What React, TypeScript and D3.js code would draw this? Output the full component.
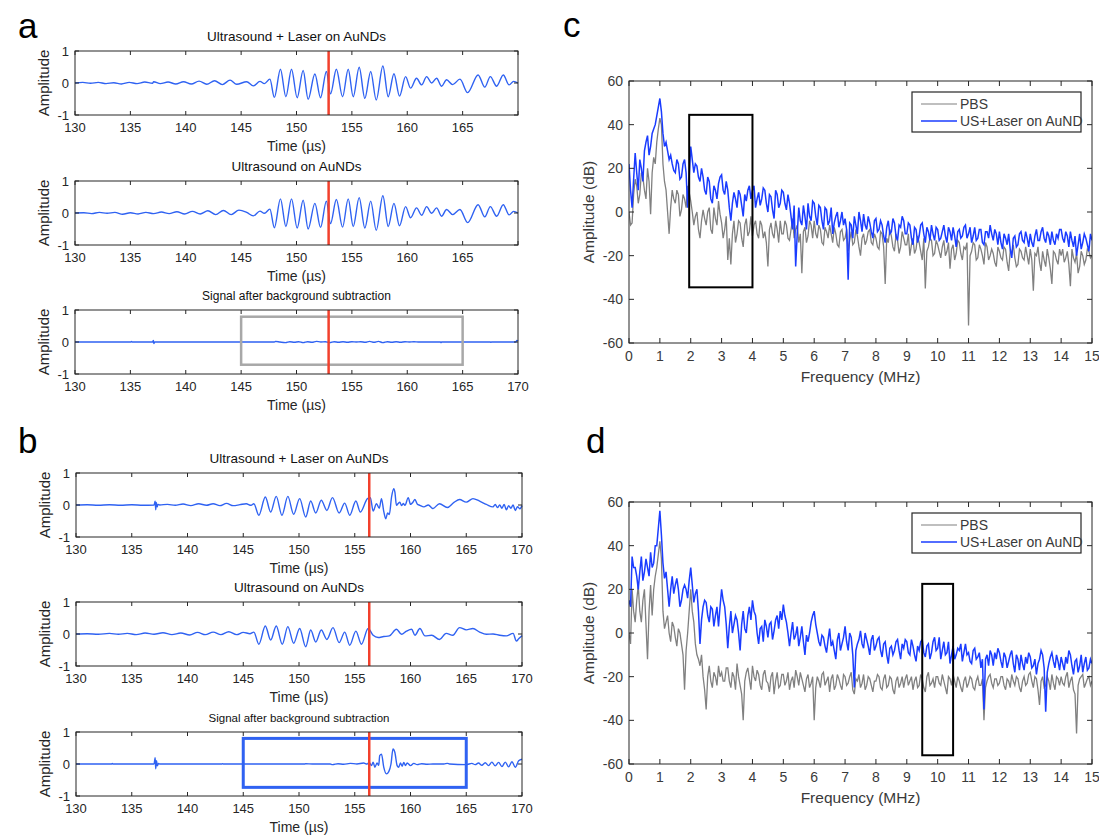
import React from 'react';
import * as d3 from 'd3';

const FONT = 'Arial, "Liberation Sans", Helvetica, sans-serif';

// time axis (µs) and amplitude ticks
const timeTicks = [130, 135, 140, 145, 150, 155, 160, 165, 170];
const ampTicks = [-1, 0, 1];
const freqTicks = [0, 1, 2, 3, 4, 5, 6, 7, 8, 9, 10, 11, 12, 13, 14, 15];
const dbTicks = [-60, -40, -20, 0, 20, 40, 60];

// waveform extrema: [time µs, amplitude]
const aLaser: [number, number][] = [
  [130, 0], [130.7, 0.02], [131.4, -0.01], [132.1, 0.02], [132.8, -0.02], [133.5, 0.01], [134.2, -0.03],
  [134.9, 0.02], [135.6, -0.02], [136.3, 0.03], [137, -0.01], [137.1, 0.04], [137.7, -0.02], [138.4, 0.03],
  [139.1, -0.03], [139.8, 0.04], [140.5, -0.03], [141.2, 0.06], [141.9, -0.04], [142.6, 0.07], [143.3, -0.05],
  [144, 0.09], [144.6, -0.04], [145.5, 0.04], [146.1, -0.09], [146.7, 0.05], [147.1, -0.02], [147.6, 0.12],
  [148.0, -0.45], [148.55, 0.43], [149.04, -0.43], [149.55, 0.43], [150.06, -0.46], [150.6, 0.39], [151.05, -0.51],
  [151.66, 0.28], [152.17, -0.46], [152.7, 0.36], [153.07, -0.34], [153.6, 0.43], [154.16, -0.43], [154.67, 0.43],
  [155.12, -0.43], [155.66, 0.49], [156.17, -0.48], [156.7, 0.36], [157.2, -0.53], [157.8, 0.53], [158.28, -0.43],
  [158.8, 0.29], [159.3, -0.41], [159.85, 0.2], [160.3, -0.16], [160.84, 0.15], [161.3, -0.06], [161.75, 0.2],
  [162.2, 0], [162.65, 0.15], [163.1, -0.1], [163.55, 0.1], [164.1, -0.05], [164.76, 0.12], [165.45, -0.3],
  [166.4, 0.25], [167.0, -0.13], [167.5, 0.2], [168.07, -0.1], [168.67, 0.25], [169.2, -0.06], [169.6, 0.05], [170, 0],
];

const aUs: [number, number][] = [
  [130, 0], [130.8, 0.01], [131.5, -0.02], [132.2, 0.02], [132.9, -0.01], [133.6, 0.02], [134.3, -0.04],
  [135, 0.01], [135.7, -0.03], [136.4, 0.02], [137.1, -0.02], [137.8, 0.03], [138.5, -0.02], [139.2, 0.04],
  [139.9, -0.03], [140.6, 0.05], [141.3, -0.03], [142, 0.07], [142.7, -0.05], [143.4, 0.08], [144.1, -0.05],
  [144.8, 0.09], [145.5, 0.02], [146.1, -0.09], [146.7, 0.06], [147.1, -0.01], [147.6, 0.12],
  [148.0, -0.46], [148.55, 0.44], [149.04, -0.42], [149.55, 0.44], [150.06, -0.47], [150.6, 0.4], [151.05, -0.5],
  [151.66, 0.3], [152.17, -0.45], [152.7, 0.37], [153.07, -0.33], [153.6, 0.42], [154.16, -0.44], [154.67, 0.44],
  [155.12, -0.42], [155.66, 0.48], [156.17, -0.47], [156.7, 0.37], [157.2, -0.54], [157.8, 0.54], [158.28, -0.42],
  [158.8, 0.3], [159.3, -0.4], [159.85, 0.2], [160.3, -0.15], [160.84, 0.16], [161.3, -0.07], [161.75, 0.2],
  [162.2, -0.01], [162.65, 0.16], [163.1, -0.1], [163.55, 0.11], [164.1, -0.05], [164.76, 0.11], [165.45, -0.3],
  [166.4, 0.26], [167.0, -0.12], [167.5, 0.2], [168.07, -0.1], [168.67, 0.26], [169.2, -0.06], [169.6, 0.05], [170, 0],
];

const aDiff: [number, number][] = [
  [130, 0], [135.05, 0], [135.1, 0.02], [135.15, 0], [137.0, 0], [137.08, 0.05], [137.12, -0.05], [137.2, 0],
  [148.0, 0], [148.1, 0.02], [148.5, 0], [149, -0.02], [149.4, 0.01], [149.8, -0.01], [150.2, 0.01], [150.6, -0.02],
  [151, 0.01], [151.4, -0.01], [151.8, 0.02], [152.2, 0], [152.6, 0.01], [153, -0.02], [153.4, 0.01], [153.8, -0.01],
  [154.2, 0.01], [154.6, -0.01], [155, 0.01], [155.4, 0], [155.8, 0.01], [156.2, -0.01], [156.6, 0.02], [157, -0.01],
  [157.4, 0.02], [157.8, -0.02], [158.2, 0.01], [158.6, -0.01], [159, 0.01], [159.4, -0.01], [159.8, 0.01], [160.2, 0],
  [160.6, 0.01], [161, 0], [163, 0], [163.05, -0.02], [163.1, 0], [167.5, 0], [167.55, -0.01], [167.6, 0],
  [169.8, 0], [169.9, 0.05], [170, 0.03],
];

const bLaser: [number, number][] = [
  [130, 0], [131, 0.01], [132, -0.01], [133, 0.01], [134, -0.01], [135, 0.01], [136, -0.01], [137.0, 0],
  [137.1, 0.12], [137.15, -0.15], [137.2, 0.08], [137.28, -0.06], [137.35, 0.02], [137.5, 0], [138.2, 0.02],
  [138.9, -0.01], [139.6, 0.03], [140.3, -0.02], [141, 0.04], [141.7, -0.01], [142.3, 0.04], [142.9, -0.02],
  [143.5, 0.05], [144.1, -0.02], [144.7, 0.01], [145.27, 0.04], [145.7, -0.01], [145.95, 0.04], [146.4, -0.32],
  [146.98, 0.25], [147.46, -0.22], [147.96, 0.27], [148.47, -0.32], [149.0, 0.27], [149.52, -0.29], [150.06, 0.2],
  [150.6, -0.375], [151.05, 0.125], [151.5, -0.25], [152.0, 0.15], [152.5, -0.17], [153.0, 0.23], [153.6, -0.25],
  [154.1, 0.06], [154.55, -0.32], [155.1, 0.125], [155.5, -0.22], [156.14, 0.2], [156.4, 0.23], [156.65, -0.19],
  [156.95, 0.04], [157.2, -0.1], [157.4, 0.2], [157.6, -0.2], [157.78, -0.43], [157.95, -0.25], [158.1, -0.3],
  [158.3, 0.25], [158.5, 0.51], [158.6, 0.4], [158.74, -0.01], [158.9, 0.05], [159.04, 0.09], [159.2, -0.02],
  [159.35, 0.05], [159.5, -0.01], [159.8, 0.23], [160.0, 0.02], [160.2, 0.08], [160.4, 0.17], [160.6, 0.03],
  [160.84, -0.01], [161.2, -0.06], [161.6, 0.0], [162.0, -0.11], [162.6, 0.04], [163.3, -0.08], [163.9, 0.08],
  [164.4, 0.17], [165.0, 0.09], [165.6, 0.2], [166.2, 0.12], [166.8, 0.02], [167.4, -0.06], [167.6, 0.02],
  [167.8, -0.08], [168.0, 0.0], [168.2, -0.1], [168.4, 0.02], [168.6, -0.15], [168.8, -0.02], [169.0, -0.1],
  [169.2, 0.0], [169.4, -0.17], [169.6, -0.05], [169.8, -0.12], [170, -0.02],
];

const bUs: [number, number][] = [
  [130, 0], [131, 0.01], [132, -0.01], [133, 0.02], [133.8, -0.01], [134.6, 0.02], [135.4, -0.02], [136.2, 0.03],
  [137, -0.01], [137.8, 0.04], [138.6, -0.02], [139.4, 0.03], [140.2, -0.03], [140.9, 0.05], [141.6, -0.02],
  [142.3, 0.06], [143, -0.02], [143.7, 0.07], [144.4, -0.02], [145.0, 0.05], [145.6, 0.01], [145.95, 0.06],
  [146.4, -0.32], [146.98, 0.25], [147.46, -0.19], [147.96, 0.25], [148.5, -0.32], [149.0, 0.23], [149.52, -0.29],
  [150.06, 0.17], [150.6, -0.4], [151.05, 0.125], [151.5, -0.25], [152.0, 0.125], [152.5, -0.17], [153.05, 0.2],
  [153.6, -0.27], [154.1, 0.06], [154.55, -0.35], [155.1, 0.09], [155.6, -0.32], [156.2, 0.17], [156.65, -0.04],
  [157.1, -0.11], [157.6, -0.08], [158.1, -0.06], [158.74, 0.15], [159.2, -0.01], [159.64, 0.09], [160.1, 0.15],
  [160.4, -0.04], [160.84, 0.17], [161.3, -0.06], [161.9, -0.04], [162.6, -0.17], [163.2, 0.02], [163.8, -0.04],
  [164.4, 0.2], [165.0, 0.13], [165.6, 0.17], [166.2, 0.06], [166.8, -0.01], [167.4, 0.0], [168.0, -0.04],
  [168.6, -0.06], [169.2, 0.02], [169.5, -0.22], [169.7, -0.15], [170, -0.05],
];

const bDiff: [number, number][] = [
  [130, 0], [133.2, 0], [133.25, 0.02], [133.3, 0], [137.0, 0], [137.1, 0.2], [137.15, -0.15], [137.22, 0.1],
  [137.3, -0.06], [137.4, 0.02], [137.5, 0], [143.1, 0], [143.15, 0.01], [143.2, 0], [150.5, 0], [150.6, 0.01],
  [151.2, 0], [152.8, 0], [153.0, -0.02], [153.5, 0.01], [154, -0.01], [154.6, 0.02], [155.2, 0], [155.8, 0.03],
  [156.1, 0.0], [156.3, 0.05], [156.5, -0.05], [156.65, 0.06], [156.8, -0.1], [157.0, 0.03], [157.15, -0.04],
  [157.24, 0.26], [157.4, 0.31], [157.6, -0.1], [157.84, -0.31], [158.05, -0.24], [158.25, 0.0], [158.43, 0.47],
  [158.6, 0.36], [158.8, -0.05], [158.94, -0.1], [159.1, 0.03], [159.25, -0.07], [159.4, 0.05], [159.55, -0.05],
  [159.7, 0.03], [160.0, -0.05], [160.3, 0.02], [160.6, -0.02], [161.0, 0.01], [161.5, -0.01], [162.0, 0.0],
  [163.0, 0.0], [163.3, 0.02], [163.5, 0], [165.0, -0.02], [165.5, 0.02], [165.8, -0.02], [166.1, 0.03],
  [166.4, -0.04], [166.7, 0.04], [167.0, -0.05], [167.3, 0.06], [167.6, -0.06], [167.9, 0.05], [168.2, -0.08],
  [168.5, 0.06], [168.8, -0.09], [169.1, 0.07], [169.4, -0.1], [169.7, 0.1], [170, 0.15],
];

// spectra, dB at whole 0.1 MHz steps (0 .. 15 MHz)
const cPbs = [
  0, -5, 15, 4, 18, 10, 20, -1, 25, 32,
  43, 22, 10, -10, 10, 4, 8, 1, 6, 12,
  5, -6, 0, -12, 1, -6, 2, -10, -3, 5,
  -5, -8, -22, -24, -4, -10, -5, -16, -3, -9,
  -11, -4, -12, -6, -9, -25, -5, -12, -8, -4,
  -10, -6, -13, -3, -8, -14, -28, -7, -11, -6,
  -4, -12, -8, -15, -9, -6, -14, -10, -16, -8,
  -12, -18, -9, -14, -11, -20, -10, -13, -8, -15,
  -12, -17, -10, -33, -14, -11, -18, -13, -16, -12,
  -15, -20, -12, -17, -14, -22, -35, -16, -13, -19,
  -15, -21, -13, -18, -26, -15, -19, -14, -22, -17,
  -52, -18, -15, -21, -17, -24, -16, -20, -19, -25,
  -18, -22, -17, -27, -19, -21, -24, -18, -22, -20,
  -17, -36, -20, -23, -18, -25, -21, -33, -19, -24,
  -20, -23, -18, -34, -21, -19, -25, -20, -22, -18,
  -20,
];
// values at the half steps (0.05, 0.15, ... 14.95 MHz)
const cPbsMid = [
  -6, 8, 12, 8, 16, 6, 14, 18, 22, 38,
  40, 14, 0, 2, 6, 10, -2, 8, 2, 9,
  0, -2, -8, -4, -3, 0, -8, 2, -6, -1,
  -12, -2, -12, -10, -14, -4, -12, -6, -11, -2,
  -6, -10, -4, -12, -14, -8, -10, -4, -14, -10,
  -4, -12, -8, -12, -6, -10, -9, -14, -4, -12,
  -10, -6, -14, -7, -12, -10, -7, -15, -9, -13,
  -8, -13, -15, -8, -16, -12, -15, -9, -14, -10,
  -16, -9, -16, -12, -8, -16, -10, -19, -9, -15,
  -10, -15, -19, -11, -18, -12, -18, -12, -20, -13,
  -18, -16, -20, -14, -17, -22, -13, -19, -16, -14,
  -20, -14, -22, -15, -20, -14, -22, -17, -23, -16,
  -21, -16, -23, -18, -15, -25, -17, -21, -16, -24,
  -22, -19, -16, -27, -22, -17, -26, -18, -22, -17,
  -17, -21, -24, -17, -23, -28, -18, -24, -17, -21,
];
const cLaser = [
  22, 2, 27, 10, 20, 28, 35, 30, 38, 44,
  52, 36, 32, 24, 22, 18, 22, 16, 24, 2,
  30, 18, 21, 14, 16, 8, 14, 4, 10, 13,
  17, 8, 10, -4, 9, 2, 8, -2, 5, 12,
  10, 2, 9, 6, 10, 0, 7, -3, 8, 4,
  9, 1, 4, -8, -25, 2, -6, -2, 4, -4,
  4, -6, 2, -8, 1, -4, -10, -2, -7, 0,
  -3, -31, -6, -2, -10, -4, -1, -8, -5, -12,
  -3, -8, -6, -14, -4, -9, -5, -13, -7, -4,
  -10, -6, -15, -8, -11, -5, -14, -9, -6, -13,
  -8, -12, -6, -14, -9, -7, -16, -8, -11, -6,
  -10, -14, -7, -12, -8, -15, -9, -6, -13, -10,
  -9, -17, -12, -10, -21, -11, -15, -9, -14, -12,
  -10, -16, -8, -13, -7, -14, -11, -9, -15, -12,
  -8, -14, -11, -9, -16, -20, -10, -14, -12, -18,
  -13,
];
const cLaserMid = [
  10, 15, 18, 24, 14, 32, 26, 36, 40, 48,
  46, 30, 28, 26, 19, 24, 15, 22, 18, 16,
  24, 22, 16, 20, 10, 16, 6, 12, 6, 16,
  10, 14, 2, 4, 6, 10, 3, 8, 10, 6,
  12, 6, 3, 11, 4, 8, 1, 10, 2, 10,
  4, 8, -2, 3, -10, -4, 3, -8, -2, 5,
  -2, 3, -4, 2, -6, 2, -5, 0, -4, -6,
  -8, -5, -12, -6, 0, -9, -6, -2, -9, -4,
  -9, -4, -11, -7, -10, -3, -11, -6, -2, -10,
  -5, -12, -7, -14, -6, -10, -7, -13, -10, -7,
  -13, -9, -11, -7, -13, -11, -9, -12, -7, -12,
  -7, -11, -13, -8, -14, -9, -12, -10, -8, -15,
  -14, -10, -15, -17, -12, -16, -10, -13, -9, -16,
  -14, -11, -13, -9, -12, -9, -15, -13, -10, -8,
  -12, -9, -16, -13, -11, -15, -17, -10, -15, -10,
];
const dPbs = [
  0, 20, 5, 22, 5, 20, -12, 22, 20, 30,
  42, 10, 5, 0, 5, -2, 2, -5, -26, 0,
  20, 5, -10, -15, -20, -35, -15, -25, -20, -15,
  -18, -22, -16, -25, -20, -14, -24, -40, -18, -21,
  -15, -22, -19, -26, -17, -23, -20, -28, -18, -24,
  -19, -22, -26, -20, -17, -24, -21, -27, -19, -23,
  -40, -20, -25, -18, -22, -27, -19, -24, -21, -26,
  -20, -23, -18, -28, -22, -25, -19, -24, -21, -27,
  -22, -20, -26, -19, -24, -21, -28, -20, -23, -25,
  -19, -22, -26, -20, -24, -21, -27, -18, -23, -25,
  -20, -24, -22, -28, -21, -19, -25, -22, -27, -20,
  -23, -21, -26, -20, -24, -40, -22, -19, -25, -21,
  -23, -20, -26, -22, -19, -24, -21, -27, -20, -23,
  -18, -25, -21, -33, -20, -24, -22, -19, -26, -21,
  -20, -24, -18, -22, -26, -46, -21, -19, -23, -20,
  -22,
];
const dPbsMid = [
  -5, 10, 15, 10, 15, 4, 10, 8, 26, 36,
  34, 2, 8, -4, 3, -6, 0, -10, -8, 10,
  10, -5, -12, -10, -26, -20, -22, -18, -24, -20,
  -22, -16, -22, -18, -26, -20, -28, -22, -16, -26,
  -20, -17, -24, -19, -22, -27, -18, -22, -25, -19,
  -24, -18, -22, -25, -20, -18, -24, -21, -25, -20,
  -25, -22, -19, -24, -20, -21, -26, -19, -24, -19,
  -24, -20, -26, -21, -19, -23, -26, -20, -24, -22,
  -19, -25, -21, -25, -20, -26, -22, -25, -20, -21,
  -24, -20, -22, -25, -19, -25, -20, -24, -21, -20,
  -23, -19, -25, -20, -24, -22, -20, -25, -22, -25,
  -20, -25, -22, -24, -21, -25, -20, -23, -21, -24,
  -20, -24, -21, -25, -22, -20, -25, -22, -24, -19,
  -22, -20, -26, -22, -25, -20, -26, -23, -20, -24,
  -23, -20, -25, -20, -28, -24, -20, -25, -21, -24,
];
const dLaser = [
  15, 35, 30, 20, 35, 28, 30, 37, 32, 40,
  56, 32, 28, 12, 26, 22, 20, 15, 22, 16,
  30, 14, 20, -5, 12, 14, 5, 11, 8, 3,
  20, 12, -7, 10, 4, 6, -8, 10, 0, 12,
  15, 8, -5, 3, 6, -2, 5, 1, 8, 10,
  13, 5, -6, 5, -1, -6, 3, -10, -4, 5,
  10, 0, -6, -2, -9, 2, -4, -12, 0, -5,
  3, -8, -2, -25, -5, 1, -7, -3, -10, -1,
  -6, -2, -11, -4, -14, -6, -8, -3, -12, -7,
  -4, -10, -6, -13, -8, -3, -11, -5, -9, -2,
  -7, -12, -4, -9, -14, -6, -10, -8, -13, -5,
  -9, -14, -7, -11, -16, -35, -10, -8, -15, -12,
  -9, -16, -11, -13, -8, -18, -12, -10, -17, -14,
  -11, -15, -19, -12, -10, -36, -14, -9, -16, -13,
  -11, -17, -14, -10, -19, -12, -15, -18, -11, -16,
  -14,
];
const dLaserMid = [
  12, 30, 26, 28, 24, 34, 26, 30, 40, 48,
  45, 25, 20, 20, 18, 25, 12, 20, 20, 24,
  22, 18, 10, 6, 15, 8, 12, 3, 12, 12,
  15, 4, 3, 0, 8, 0, 4, 2, 8, 6,
  10, 0, 2, -4, 3, 4, -3, 6, 2, 6,
  8, 0, 0, -3, 3, -2, -4, -1, 0, 8,
  4, -4, -1, -6, -3, -6, -8, -3, -8, -2,
  -4, 0, -10, -8, -3, -5, 0, -6, -3, -8,
  -3, -8, -5, -10, -7, -10, -4, -8, -5, -3,
  -9, -3, -10, -6, -4, -9, -6, -12, -4, -8,
  -2, -8, -10, -4, -10, -12, -7, -5, -9, -10,
  -13, -8, -12, -9, -12, -12, -15, -10, -9, -7,
  -13, -9, -16, -10, -14, -10, -17, -14, -11, -9,
  -16, -12, -14, -8, -16, -18, -11, -13, -10, -17,
  -14, -11, -8, -15, -13, -18, -10, -14, -17, -12,
];

const BLUE_T = '#2f62f2';
const BLUE_S = '#1a3cff';
const GRAY = '#808080';
const RED = '#f2402c';
const INK = '#262626';

// merge whole-step and half-step readings into [MHz, dB] points
function spectrum(main: number[], mid: number[]): [number, number][] {
  const pts: [number, number][] = [];
  main.forEach((v, i) => {
    pts.push([i / 10, v]);
    if (i < mid.length) pts.push([i / 10 + 0.05, mid[i]]);
  });
  return pts;
}

type TP = {
  left: number; right: number; top: number; title: string; titleSize: number;
  data: [number, number][]; marker: number; label170: boolean;
  frame?: { color: string; width: number; y0: number; y1: number };
};

function TimePanel({ left, right, top, title, titleSize, data, marker, label170, frame }: TP) {
  const h = 64;
  const bottom = top + h;
  const x = d3.scaleLinear().domain([130, 170]).range([left, right]);
  const y = d3.scaleLinear().domain([-1, 1]).range([bottom, top]);
  const line = d3.line<[number, number]>().x(d => x(d[0])).y(d => y(d[1])).curve(d3.curveMonotoneX);
  const cx = (left + right) / 2;
  return (
    <g fontFamily={FONT}>
      <text x={cx} y={top - 10} textAnchor="middle" fontSize={titleSize} fill="#111">{title}</text>
      <path d={line(data) || ''} fill="none" stroke={BLUE_T} strokeWidth={1.4} />
      {frame && (
        <rect x={x(145)} y={y(frame.y0)} width={x(165) - x(145)} height={y(frame.y1) - y(frame.y0)}
          fill="none" stroke={frame.color} strokeWidth={frame.width} />
      )}
      <line x1={x(marker)} x2={x(marker)} y1={top} y2={bottom} stroke={RED} strokeWidth={2.5} />
      <rect x={left} y={top} width={right - left} height={h} fill="none" stroke={INK} strokeWidth={1} />
      {timeTicks.map(t => (
        <g key={t}>
          <line x1={x(t)} x2={x(t)} y1={bottom} y2={bottom - 4} stroke={INK} />
          <line x1={x(t)} x2={x(t)} y1={top} y2={top + 4} stroke={INK} />
          {(t < 170 || label170) && (
            <text x={x(t)} y={bottom + 17} textAnchor="middle" fontSize={13} fill={INK}>{t}</text>
          )}
        </g>
      ))}
      {ampTicks.map(a => (
        <g key={a}>
          <line x1={left} x2={left + 4} y1={y(a)} y2={y(a)} stroke={INK} />
          <line x1={right} x2={right - 4} y1={y(a)} y2={y(a)} stroke={INK} />
          <text x={left - 6} y={y(a) + 5} textAnchor="end" fontSize={13} fill={INK}>{a}</text>
        </g>
      ))}
      <text transform={`translate(${left - 26},${top + h / 2}) rotate(-90)`} textAnchor="middle"
        fontSize={15} fill={INK}>Amplitude</text>
      <text x={cx} y={bottom + 36} textAnchor="middle" fontSize={14} fill={INK}>Time (µs)</text>
    </g>
  );
}

type SP = { top: number; pbs: [number, number][]; us: [number, number][]; box: [number, number, number, number] };

function SpecPanel({ top, pbs, us, box }: SP) {
  const left = 629, right = 1092, h = 262;
  const bottom = top + h;
  const x = d3.scaleLinear().domain([0, 15]).range([left, right]);
  const y = d3.scaleLinear().domain([-60, 60]).range([bottom, top]);
  const line = d3.line<[number, number]>().x(d => x(d[0])).y(d => y(d[1]));
  const lx = 912, ly = top + 11;
  return (
    <g fontFamily={FONT}>
      <defs>
        <clipPath id={`clip${top}`}><rect x={left} y={top} width={right - left} height={h} /></clipPath>
      </defs>
      <g clipPath={`url(#clip${top})`}>
        <path d={line(pbs) || ''} fill="none" stroke={GRAY} strokeWidth={1.3} />
        <path d={line(us) || ''} fill="none" stroke={BLUE_S} strokeWidth={1.5} />
      </g>
      <rect x={x(box[0])} y={y(box[2])} width={x(box[1]) - x(box[0])} height={y(box[3]) - y(box[2])}
        fill="none" stroke="#000" strokeWidth={2} />
      <rect x={left} y={top} width={right - left} height={h} fill="none" stroke={INK} strokeWidth={1} />
      {freqTicks.map(f => (
        <g key={f}>
          <line x1={x(f)} x2={x(f)} y1={bottom} y2={bottom - 5} stroke={INK} />
          <line x1={x(f)} x2={x(f)} y1={top} y2={top + 5} stroke={INK} />
          <text x={x(f)} y={bottom + 18} textAnchor="middle" fontSize={14} fill="#3a3a3a">{f}</text>
        </g>
      ))}
      {dbTicks.map(v => (
        <g key={v}>
          <line x1={left} x2={left + 5} y1={y(v)} y2={y(v)} stroke={INK} />
          <line x1={right} x2={right - 5} y1={y(v)} y2={y(v)} stroke={INK} />
          <text x={left - 6} y={y(v) + 5} textAnchor="end" fontSize={14} fill="#3a3a3a">{v}</text>
        </g>
      ))}
      <text transform={`translate(594,${top + h / 2}) rotate(-90)`} textAnchor="middle" fontSize={15.5}
        fill="#3a3a3a">Amplitude (dB)</text>
      <text x={(left + right) / 2} y={bottom + 39} textAnchor="middle" fontSize={15.5} fill="#3a3a3a">Frequency (MHz)</text>
      <rect x={lx} y={ly} width={169} height={40} fill="#fff" stroke={INK} strokeWidth={1.2} />
      <line x1={lx + 9} x2={lx + 45} y1={ly + 12} y2={ly + 12} stroke={GRAY} strokeWidth={1.2} />
      <line x1={lx + 9} x2={lx + 45} y1={ly + 29} y2={ly + 29} stroke={BLUE_S} strokeWidth={1.5} />
      <text x={lx + 48} y={ly + 17} fontSize={14} fill="#3a3a3a">PBS</text>
      <text x={lx + 48} y={ly + 34} fontSize={14} fill="#3a3a3a">US+Laser on AuND</text>
    </g>
  );
}

export default function App() {
  return (
    <div style={{ position: 'absolute', left: 0, top: 0 }}>
      <svg width={1099} height={836} style={{ display: 'block', background: '#fff' }}>
        <g fontFamily={FONT} fontSize={35} fill="#000">
          <text x={18} y={38}>a</text>
          <text x={563} y={37}>c</text>
          <text x={18} y={453}>b</text>
          <text x={586} y={453}>d</text>
        </g>
        <TimePanel left={75} right={518} top={51} title="Ultrasound + Laser on AuNDs" titleSize={13.5}
          data={aLaser} marker={152.9} label170={false} />
        <TimePanel left={75} right={518} top={181} title="Ultrasound on AuNDs" titleSize={13.5}
          data={aUs} marker={152.9} label170={false} />
        <TimePanel left={75} right={518} top={310} title="Signal after background subtraction" titleSize={12}
          data={aDiff} marker={152.9} label170={true}
          frame={{ color: '#a8a8a8', width: 2.5, y0: 0.79, y1: -0.71 }} />
        <TimePanel left={76} right={522} top={473} title="Ultrasound + Laser on AuNDs" titleSize={13.5}
          data={bLaser} marker={156.3} label170={true} />
        <TimePanel left={76} right={522} top={602} title="Ultrasound on AuNDs" titleSize={13.5}
          data={bUs} marker={156.3} label170={true} />
        <TimePanel left={76} right={522} top={732} title="Signal after background subtraction" titleSize={11.5}
          data={bDiff} marker={156.3} label170={true}
          frame={{ color: '#2f62f2', width: 3, y0: 0.8, y1: -0.73 }} />
        <SpecPanel top={81} pbs={spectrum(cPbs, cPbsMid)} us={spectrum(cLaser, cLaserMid)} box={[1.95, 4, 44.5, -34.5]} />
        <SpecPanel top={502} pbs={spectrum(dPbs, dPbsMid)} us={spectrum(dLaser, dLaserMid)} box={[9.5, 10.5, 22.5, -56]} />
      </svg>
    </div>
  );
}
